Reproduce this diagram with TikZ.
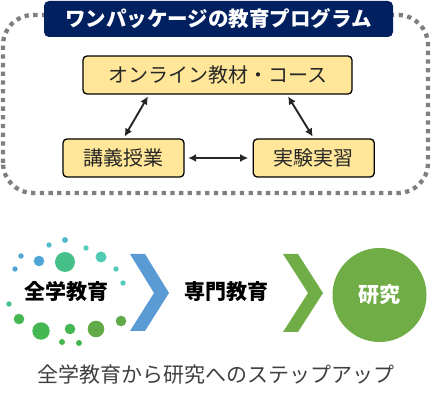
\documentclass[tikz,border=0pt]{standalone}
\usepackage{fontspec}
\newfontfamily\jp{Noto Sans CJK JP}
\usetikzlibrary{arrows.meta,positioning}
\definecolor{navy}{HTML}{002060}
\definecolor{framegray}{HTML}{7F7F7F}
\definecolor{boxbg}{HTML}{FFE699}
\definecolor{arrowink}{HTML}{262626}
\definecolor{stepblue}{HTML}{5B9BD5}
\definecolor{stepgreen}{HTML}{70AD47}
\definecolor{captink}{HTML}{404040}
\definecolor{dotblue}{HTML}{4FA6D6}
\definecolor{dotsky}{HTML}{55BCCF}
\definecolor{dotteal}{HTML}{52CBB5}
\definecolor{dotmint}{HTML}{44C088}
\definecolor{dotgreen}{HTML}{45B752}
\definecolor{dotolive}{HTML}{62AA48}

\begin{document}
\begin{tikzpicture}[x=1pt, y=1pt,
  font=\jp,
  frame/.style={draw=framegray, line width=4.3pt, rounded corners=30pt,
                dash pattern=on 4.3pt off 4.4pt},
  banner/.style={rectangle, rounded corners=5pt, fill=navy, text=white,
                 minimum width=349pt, minimum height=36pt,
                 font=\jp\bfseries\fontsize{20.5}{24}\selectfont},
  box/.style={rectangle, rounded corners=4pt, draw=black, line width=1.3pt,
              fill=boxbg, minimum height=38pt, inner sep=2pt, text=black!85,
              font=\jp\fontsize{20}{24}\selectfont},
  dbl/.style={{Latex[length=8pt,width=8pt]}-{Latex[length=8pt,width=8pt]},
              arrowink, line width=1.9pt, shorten <=2pt, shorten >=2pt},
  stage/.style={font=\jp\bfseries\fontsize{21}{25}\selectfont},
  goal/.style={circle, fill=stepgreen, text=white, minimum size=94pt,
               inner sep=0pt, font=\jp\bfseries\fontsize{21}{25}\selectfont},
  capt/.style={text=captink, font=\jp\fontsize{21}{25}\selectfont}]

  \useasboundingbox (0,0) rectangle (434,401);

  % package frame
  \draw[frame] (3,208) rectangle (428,386);
  \node[banner] (title) at (218.5,382) {ワンパッケージの教育プログラム};

  \node[box, minimum width=269pt] (online) at (217.5,326) {オンライン教材・コース};
  \node[box, minimum width=121pt] (koza) at (123.5,243) {講義授業};
  \node[box, minimum width=121pt, right=68pt of koza] (jikken) {実験実習};

  \draw[dbl] ([xshift=-68.5pt]online.south) -- (koza.north);
  \draw[dbl] ([xshift=69.5pt]online.south) -- (jikken.north);
  \draw[dbl, shorten <=3.5pt, shorten >=4.5pt] (koza) -- (jikken);

  % steps
  \fill[dotsky]   (65,161) circle (3pt);
  \fill[dotsky]   (49,156) circle (2.7pt);
  \fill[dotteal]  (86,153) circle (2.7pt);
  \fill[dotblue]  (21,145) circle (2.7pt);
  \fill[dotblue]  (39,140) circle (5.3pt);
  \fill[dotmint]  (65,139) circle (10pt);
  \fill[dotteal]  (101,144) circle (5.5pt);
  \fill[dotblue]  (15,132) circle (2.7pt);
  \fill[dotteal]  (116,132) circle (2.7pt);
  \fill[dotteal]  (123,118) circle (2.7pt);
  \fill[dotmint]  (9,97) circle (2.7pt);
  \fill[dotgreen] (19,82) circle (5.3pt);
  \fill[dotgreen] (41,70) circle (8.7pt);
  \fill[dotgreen] (62,59) circle (3pt);
  \fill[dotgreen] (70,72) circle (5.3pt);
  \fill[dotgreen] (79,58) circle (3pt);
  \fill[dotolive] (96,72) circle (8.3pt);
  \fill[dotolive] (121,80) circle (5.3pt);

  \node[stage] (zengaku) at (66,109) {全学教育};
  \fill[stepblue] (130,147) -- (145,147) -- (169,108) -- (145,70)
                  -- (130,70) -- (154,108) -- cycle;
  \node[stage] (senmon) at (226,109) {専門教育};
  \fill[stepgreen] (283,147) -- (298,147) -- (323,108) -- (298,69)
                   -- (283,69) -- (308,108) -- cycle;
  \node[goal] (kenkyu) at (379.5,106) {研究};

  \node[capt] (caption) at (216,26) {全学教育から研究へのステップアップ};
\end{tikzpicture}
\end{document}
